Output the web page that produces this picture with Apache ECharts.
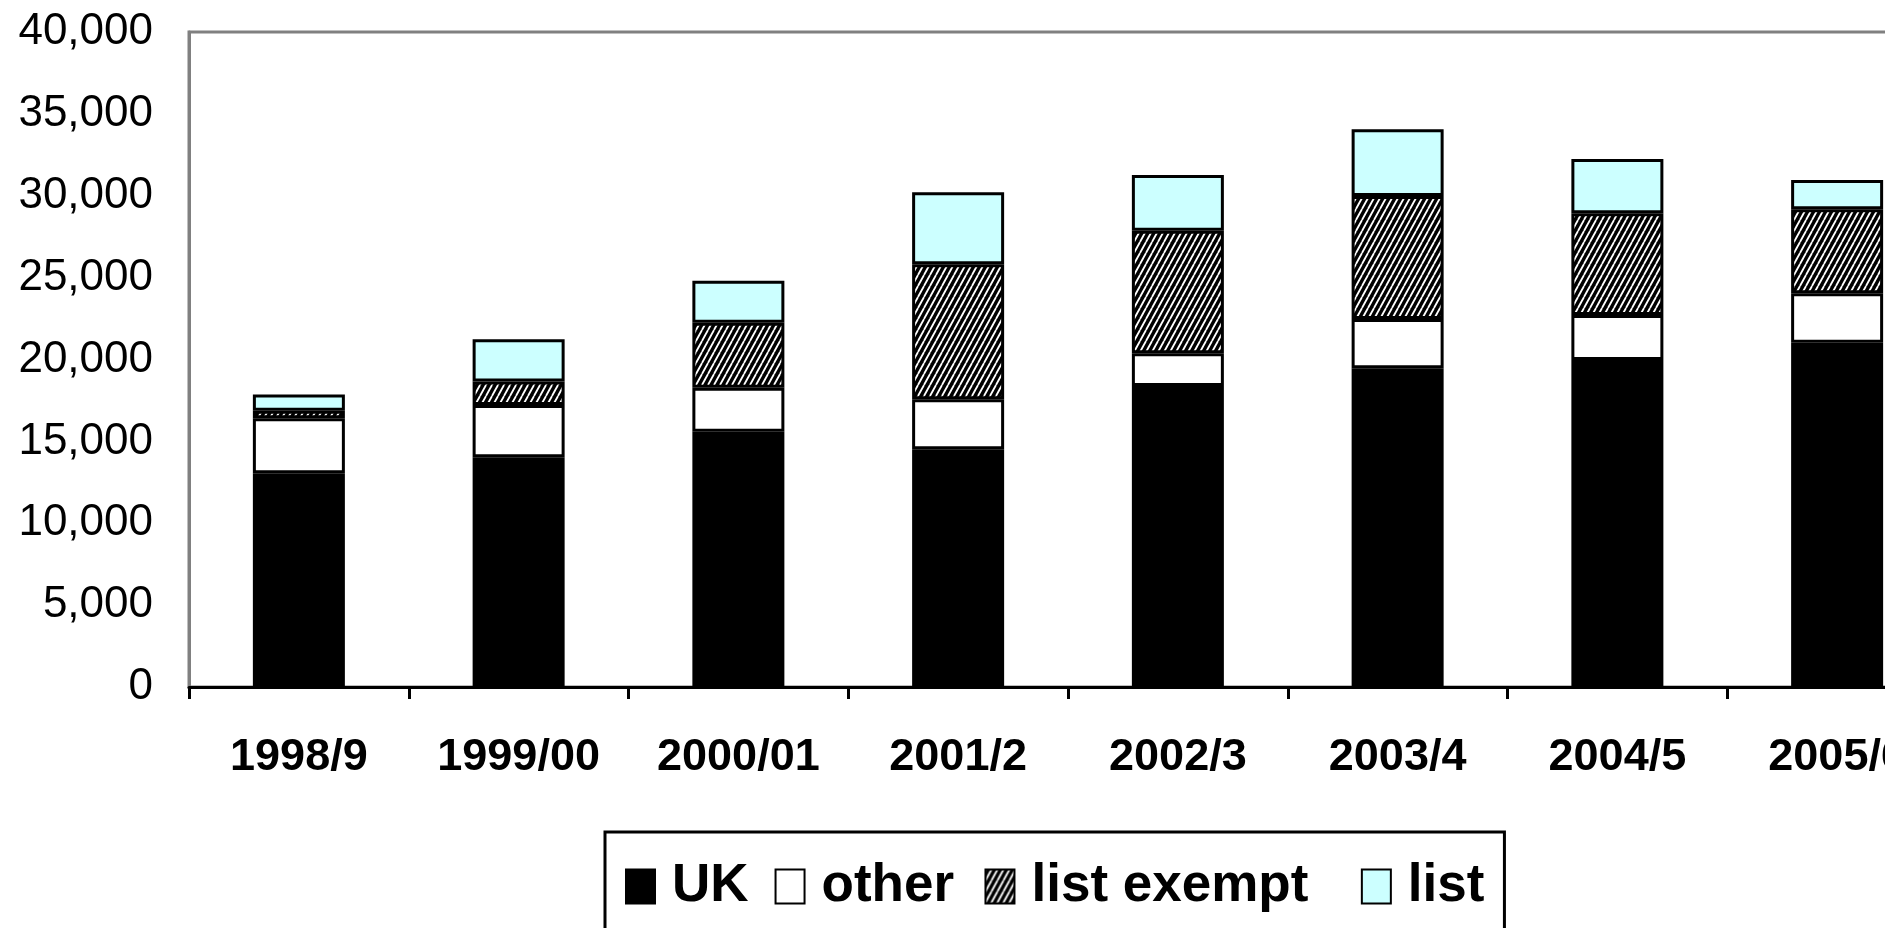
<!DOCTYPE html>
<html>
<head>
<meta charset="utf-8">
<script src="https://cdn.jsdelivr.net/npm/echarts@6/dist/echarts.min.js"></script>
<style>
  html, body { margin: 0; padding: 0; width: 100%; height: 100%; background: #fff; }
  #chart { width: 1885px; height: 928px; }
</style>
</head>
<body>
<div id="chart"></div>
<script>
// data
const years = ['1998/9', '1999/00', '2000/01', '2001/2', '2002/3', '2003/4', '2004/5', '2005/6'];
const ukValues = [13050, 14030, 15590, 14520, 18380, 19460, 19970, 21030];
const otherValues = [3360, 3190, 2690, 3050, 2000, 3010, 2750, 3010];
const listExemptValues = [460, 1430, 3970, 8240, 7490, 7510, 6210, 5130];
const listValues = [1000, 2580, 2560, 4400, 3400, 4080, 3310, 1790];
const yTicks = [0, 5000, 10000, 15000, 20000, 25000, 30000, 35000, 40000];

// diagonal hatch (white stripes on black)
function makeHatch() {
  const c = document.createElement('canvas');
  c.width = 6;
  c.height = 11;
  const ctx = c.getContext('2d');
  ctx.fillStyle = '#000';
  ctx.fillRect(0, 0, 6, 11);
  ctx.strokeStyle = '#fff';
  ctx.lineWidth = 1.8;
  [-6, 0, 6].forEach(function (dx) {
    ctx.beginPath();
    ctx.moveTo(dx, 11);
    ctx.lineTo(dx + 6, 0);
    ctx.stroke();
  });
  return c;
}

const chart = echarts.init(document.getElementById('chart'));
const font = '"Liberation Sans", Arial, sans-serif';

const barStyle = function (fill) {
  return { color: fill, borderColor: '#000', borderWidth: 3 };
};

chart.setOption({
  animation: false,
  grid: {
    left: 189,
    top: 32,
    bottom: 241,
    right: -62,
    outerBoundsMode: 'none',
    containLabel: false,
    show: true,
    borderColor: '#808080',
    borderWidth: 3
  },
  legend: {
    left: 605,
    top: 832,
    padding: [28, 20, 40, 20],
    borderColor: '#000',
    borderWidth: 3,
    icon: 'rect',
    itemWidth: 29,
    itemHeight: 34,
    itemGap: 26,
    formatter: function (name) {
      // the original legend text runs a little wider
      if (name === 'list exempt') return name + '\u2002';
      if (name === 'other') return name + '\u200a';
      return name;
    },
    textStyle: { fontFamily: font, fontSize: 53, fontWeight: 'bold', color: '#000', padding: [0, 0, 0, 12] },
    data: ['UK', 'other', 'list exempt', 'list']
  },
  xAxis: {
    type: 'category',
    data: years,
    axisLine: { lineStyle: { color: '#000', width: 3 } },
    axisTick: { show: true, interval: 0, length: 12, lineStyle: { color: '#000', width: 3 } },
    axisLabel: { interval: 0, margin: 48, fontFamily: font, fontSize: 45, fontWeight: 'bold', color: '#000' }
  },
  yAxis: {
    type: 'value',
    min: yTicks[0],
    max: yTicks[yTicks.length - 1],
    interval: 5000,
    axisLine: { show: true, lineStyle: { color: '#808080', width: 3 } },
    axisTick: { show: false },
    splitLine: { show: false },
    axisLabel: {
      margin: 36,
      fontFamily: font,
      fontSize: 44,
      color: '#000',
      formatter: function (v) { return v.toLocaleString('en-US'); }
    }
  },
  series: [
    { name: 'UK', type: 'bar', stack: 'total', barWidth: 92, data: ukValues, itemStyle: barStyle('#000') },
    { name: 'other', type: 'bar', stack: 'total', barWidth: 92, data: otherValues, itemStyle: barStyle('#fff') },
    { name: 'list exempt', type: 'bar', stack: 'total', barWidth: 92, data: listExemptValues,
      itemStyle: barStyle({ image: makeHatch(), repeat: 'repeat' }) },
    { name: 'list', type: 'bar', stack: 'total', barWidth: 92, data: listValues, itemStyle: barStyle('#ccffff') }
  ]
});
</script>
</body>
</html>
